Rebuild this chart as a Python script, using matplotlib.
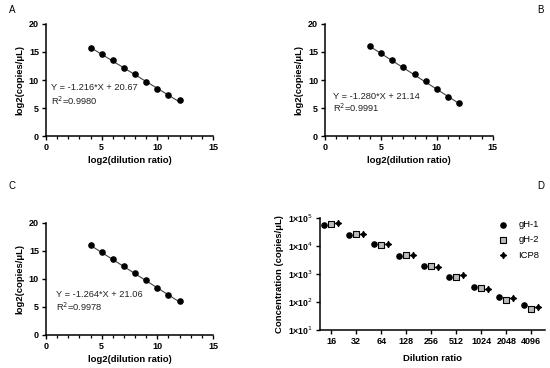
import numpy as np
import matplotlib
matplotlib.use("Agg")
import matplotlib.pyplot as plt
from matplotlib.ticker import MultipleLocator, FixedLocator

plt.rcParams['font.family'] = ['Liberation Sans', 'DejaVu Sans']

# standard curves (panels A-C)
log2_dil = [4, 5, 6, 7, 8, 9, 10, 11, 12]
a_vals = [15.8, 14.6, 13.5, 12.1, 11.0, 9.7, 8.45, 7.25, 6.35]
b_vals = [16.0, 14.9, 13.55, 12.35, 11.05, 9.75, 8.4, 7.05, 5.9]
c_vals = [16.0, 14.8, 13.6, 12.3, 11.0, 9.85, 8.35, 7.2, 6.0]
fits = [(-1.216, 20.67, "0.9980"), (-1.280, 21.14, "0.9991"), (-1.264, 21.06, "0.9978")]

# panel D
dil_labels = ["16", "32", "64", "128", "256", "512", "1024", "2048", "4096"]
gh1 = [5.6e4, 2.5e4, 1.18e4, 4.3e3, 2.0e3, 780, 333, 147, 78]
gh2 = [6.3e4, 2.7e4, 1.12e4, 4.8e3, 1.9e3, 780, 320, 120, 56]
icp8 = [6.5e4, 2.7e4, 1.2e4, 4.7e3, 1.85e3, 910, 290, 141, 65]

fig = plt.figure(figsize=(5.5, 3.68), dpi=100)

def style(ax):
    for s in ['top', 'right']:
        ax.spines[s].set_visible(False)
    for s in ['left', 'bottom']:
        ax.spines[s].set_linewidth(1.1)
    ax.tick_params(which='major', length=3, width=1.0, labelsize=6.5, pad=2)
    ax.tick_params(which='minor', length=2, width=0.9)
    for lab in ax.get_xticklabels() + ax.get_yticklabels():
        lab.set_fontweight('bold')

pos = [
    [0.0836, 0.6304, 0.3036, 0.3044],
    [0.591, 0.6304, 0.305, 0.3044],
    [0.0836, 0.0897, 0.3036, 0.3044],
]
text_pos = [(0.45, 8.6, 6.3), (0.7, 7.1, 5.0), (0.9, 7.2, 5.0)]
for i, vals in enumerate([a_vals, b_vals, c_vals]):
    ax = fig.add_axes(pos[i])
    k, b, r2 = fits[i]
    xs = np.array([log2_dil[0], log2_dil[-1]])
    ax.plot(xs, k * xs + b, color='#444444', lw=0.8, zorder=1)
    ax.scatter(log2_dil, vals, s=14, color='black', zorder=2)
    ax.set_xlim(0, 15)
    ax.set_ylim(0, 20)
    ax.xaxis.set_major_locator(MultipleLocator(5))
    ax.xaxis.set_minor_locator(MultipleLocator(1))
    ax.yaxis.set_major_locator(MultipleLocator(5))
    style(ax)
    ax.set_xlabel("log2(dilution ratio)", fontsize=6.8, fontweight='bold', labelpad=3)
    ax.set_ylabel("log2(copies/μL)", fontsize=6.8, fontweight='bold', labelpad=3)
    tx, ty1, ty2 = text_pos[i]
    ax.text(tx, ty1, "Y = %.3f*X + %.2f" % (k, b), fontsize=6.7, va='center', ha='left', color='#222222')
    ax.text(tx, ty2, "R$^2$=" + r2, fontsize=6.7, va='center', ha='left', color='#222222')

# panel D
axd = fig.add_axes([0.582, 0.103, 0.409, 0.3046])
xi = np.arange(len(dil_labels))
off = 0.28
axd.scatter(xi - off, gh1, s=14, marker='o', color='black', label='gH-1', zorder=3)
axd.scatter(xi, gh2, s=16, marker='s', facecolor='#bbbbbb', edgecolor='black', linewidth=0.8, label='gH-2', zorder=3)
axd.scatter(xi + off, icp8, s=18, marker=(4, 1, 0), color='black', label='ICP8', zorder=3)
axd.set_yscale('log')
axd.set_ylim(10, 1e5)
axd.set_xlim(-0.45, len(dil_labels) - 0.45)
axd.set_yticks([1e1, 1e2, 1e3, 1e4, 1e5])
axd.yaxis.set_minor_locator(FixedLocator([]))
axd.set_yticklabels([r"1×10$^{%d}$" % e for e in range(1, 6)])
axd.set_xticks(xi)
axd.set_xticklabels(dil_labels)
style(axd)
axd.tick_params(axis='y', labelsize=6.3)
axd.set_xlabel("Dilution ratio", fontsize=6.8, fontweight='bold', labelpad=6)
axd.set_ylabel("Concentration (copies/μL)", fontsize=6.8, fontweight='bold', labelpad=3)
leg = axd.legend(loc='upper right', frameon=False, fontsize=6.8, handletextpad=0.6,
                 labelspacing=0.65, bbox_to_anchor=(1.0, 1.03), borderaxespad=0.2)

for lab, x, y in [("A", 0.022, 0.972), ("B", 0.983, 0.972), ("C", 0.022, 0.495), ("D", 0.983, 0.495)]:
    fig.text(x, y, lab, fontsize=7, ha='center', va='center')

fig.savefig("out.png", dpi=100)
